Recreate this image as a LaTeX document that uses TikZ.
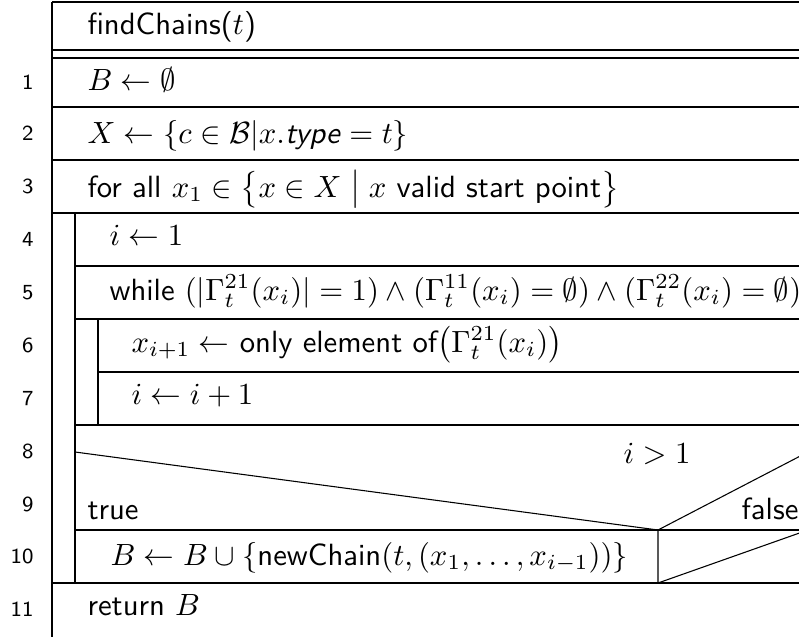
\documentclass[tikz,border=0pt]{standalone}
\usepackage{amsmath}
\begin{document}
\begin{tikzpicture}[
        x=0.3257pt, y=-0.3257pt, line width=0.35pt,
        stmt/.style={anchor=base west, inner sep=0pt, font=\sffamily},
        lineno/.style={anchor=base east, inner sep=0pt, font=\sffamily\scriptsize},
    ]
    \clip (0,0) rectangle (799,636);
    \draw[black] (52,2) -- (52,640);
    \foreach \xa/\ya in {52/2, 52/50, 52/58, 52/107, 52/160, 52/213, 75/266, 75/319, 98/372, 75/425, 75/530, 52/583}
        \draw[black] (\xa,\ya) -- (808,\ya);
    \draw[black] (75,213) -- (75,583);
    \draw[black] (98,319) -- (98,425);
    \draw[black] (75,452) -- (658,530) -- (808,452);
    \draw[black] (658,530) -- (658,583) -- (808,530);

    \node[stmt] (title) at (87,35) {findChains($t$)};
    \node[stmt] (initb) at (87,91) {$B \leftarrow \emptyset$};
    \node[stmt] (initx) at (87,143) {$X \leftarrow \{c \in \mathcal{B} | x.\text{\textsl{type}} = t\}$};
    \node[stmt] (forall) at (87,197) {for all $x_1 \in \bigl\{x \in X \bigm| x \text{ valid start point}\bigr\}$};
    \node[stmt] (initi) at (109,245) {$i \leftarrow 1$};
    \node[stmt] (while) at (109,300) {while $(|\Gamma_t^{21}(x_i)| = 1) \wedge (\Gamma_t^{11}(x_i) = \emptyset) \wedge (\Gamma_t^{22}(x_i) = \emptyset)$};
    \node[stmt] (next) at (131,352) {$x_{i+1} \leftarrow$ only element of$\bigl(\Gamma_t^{21}(x_i)\bigr)$};
    \node[stmt] (incr) at (131,404) {$i \leftarrow i + 1$};
    \node[stmt] (cond) at (623,463) {$i > 1$};
    \node[stmt] (true) at (87,519) {true};
    \node[stmt] (false) at (741,519) {false};
    \node[stmt] (add) at (110,565) {$B \leftarrow B \cup \{$newChain$(t, (x_1, \ldots, x_{i-1}))\}$};
    \node[stmt] (ret) at (87,615) {return $B$};

    \foreach \n/\yn in {1/89.5, 2/140.5, 3/193.5, 4/246.5, 5/299.5, 6/352.5, 7/405.5, 8/458.5, 9/511, 10/563.5, 11/616.5}
        \node[lineno] (ln\n) at (34,\yn) {\n};
\end{tikzpicture}
\end{document}
